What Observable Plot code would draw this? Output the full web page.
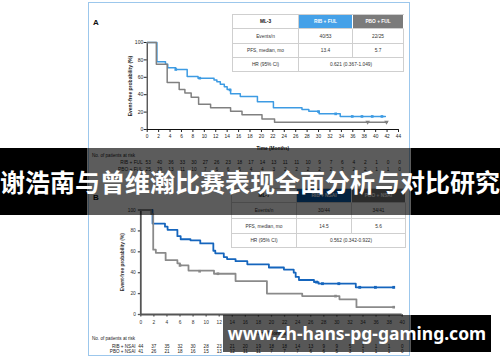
<!DOCTYPE html>
<html><head><meta charset="utf-8">
<script src="https://cdn.jsdelivr.net/npm/d3@7"></script>
<script src="https://cdn.jsdelivr.net/npm/@observablehq/plot@0.6"></script>
<style>
body{margin:0;background:#fff;}
#root{position:relative;width:500px;height:362px;overflow:hidden;background:#fff;font-family:"Liberation Sans",Arial,sans-serif;}
#root svg{position:absolute;overflow:visible;}
#root g[aria-label$="axis label"] text{font-weight:bold;}
.cell{position:absolute;box-sizing:border-box;border-right:1px solid #cfcfcf;border-bottom:1px solid #cfcfcf;display:flex;align-items:center;justify-content:center;font-size:4.8px;color:#333;white-space:nowrap;}
.txt{position:absolute;white-space:nowrap;}
</style></head>
<body><div id="root"></div>
<script>
// ---------- data ----------
const yTicks = [0, 20, 40, 60, 80, 100];
const monthsA = [0,2,4,6,8,10,12,14,16,18,20,22,24,26,28,30,32,34,36,38,40,42,44];
const monthsB = [0,2,4,6,8,10,12,14,16,18,20,22,24,26,28,30,32,34,36,38,40];

// Panel A (ML-3) Kaplan-Meier steps
const ribFulT = [0,1.7,3.2,3.6,5.0,7.0,8.9,11.7,12.2,12.8,13.5,14.0,14.6,16.3,19.3,22.1,27.1,28.3,30.1,33.8,41.7];
const ribFulS = [100,78,75,71,69,61,59,57,55,52,49,46,41,38,32,25,23,21,18,15,15];
const pboFulT = [0,1.6,3.5,5.6,6.6,7.7,9.0,11.1,14.6,16.6,20.1,22.3,42];
const pboFulS = [100,75,54,46,42,37,29,25,21,17,12,8.4,8.4];
const ribFulCensT = [5.0,9.2,14.5,30.0,33.0,35.9,37.6,39.4,41.1];
const ribFulCensS = [69,59,45.5,20.5,18,15,15,15,15];
const pboFulCensT = [38.6,41.9];
const pboFulCensS = [8.4,8.4];

// Panel B (ML-7) Kaplan-Meier steps
const ribNsaiT = [0,1.8,3.7,4.1,5.6,6.1,7.6,9.1,11.1,11.4,12.7,13.2,14.5,16.3,19.6,21.9,23.4,23.7,24.2,26.5,27.2,32.9,38.7];
const ribNsaiS = [100,87,84,81,75,72,71,68,61,58.5,55,53,51,48,45,43,40,36,33,31,29.5,26,26];
const pboNsaiT = [0,1.6,1.9,2.3,3.8,5.6,6.0,7.3,11.2,14.5,19.3,24.7,30.0,30.4,33.0,38.7];
const pboNsaiS = [100,96,62,59,52,49,47,42,39,32,20,17.6,17.6,14.5,7,7];
const ribNsaiCensT = [26.9,27.8,30.3,33.5,35.9,38.7];
const ribNsaiCensS = [31,29.5,29.5,26,26,26];
const pboNsaiCensT = [6.0,9.0,11.8,29.8,38.7];
const pboNsaiCensS = [47,41.4,39,17.6,7];

// numbers at risk
const riskRibFul = [53,40,36,33,30,27,26,23,18,17,14,13,11,11,10,9,7,6,4,2,1,0,0];
const riskPboFul = [25,19,13,11,10,7,6,6,5,4,4,3,2,2,2,2,2,2,2,2,1,1,0];
const riskRibNsai = [44,37,35,32,30,28,23,21,20,19,18,18,14,13,9,9,5,1,1,1,0];
const riskPboNsai = [41,26,21,18,16,15,13,12,11,11,7,7,7,6,6,5,3,1,1,1,0];

// summary tables
const tableAHeader = ["ML-3", "RIB + FUL", "PBO + FUL"];
const tableARows = [["Events/n","40/53","22/25"],["PFS, median, mo","13.4","5.7"],["HR (95% CI)","0.621 (0.367-1.049)"]];
const tableBHeader = ["ML-7", "RIB + NSAI", "PBO + NSAI"];
const tableBRows = [["Events/n","30/44","34/41"],["PFS, median, mo","14.5","5.6"],["HR (95% CI)","0.562 (0.342-0.922)"]];

const titleText = "谢浩南与曾维瀚比赛表现全面分析与对比研究";
const watermarkText = "www.zh-hans-pg-gaming.com";

// ---------- styles ----------
const blueA = "#3d9be3", grayA = "#808080", blueB = "#1565bd", grayB = "#8a8a8a";
const font = "Liberation Sans, Arial, sans-serif";

const root = document.getElementById("root");
const pairs = (t, s) => t.map((v, i) => ({t: v, s: s[i]}));
function put(el, left, top) { el.style.left = left + "px"; el.style.top = top + "px"; root.appendChild(el); return el; }
function txt(text, left, top, css) { const d = document.createElement("div"); d.className = "txt"; d.textContent = text; d.style.cssText += css || ""; return put(d, left, top); }

// panel border
const panel = document.createElement("div");
panel.style.cssText = "position:absolute;width:322px;height:354px;border:1px solid #9cc7ec;box-sizing:border-box;";
put(panel, 88, 2);

// ---------- Panel A chart ----------
const kmA = Plot.plot({
  width: 323, height: 150,
  marginLeft: 58.7, marginRight: 13, marginTop: 40, marginBottom: 23,
  style: {fontSize: "4.8px", fontFamily: font, background: "transparent", color: "#222", overflow: "visible"},
  x: {domain: [0, 44]},
  y: {domain: [0, 100]},
  marks: [
    Plot.axisY({ticks: yTicks, tickSize: 3, tickPadding: 1, label: "Event-free probability (%)", labelAnchor: "center", labelOffset: 19, labelArrow: "none", fontSize: 5}),
    Plot.axisX({ticks: monthsA, tickSize: 3, tickPadding: 2, label: "Time (Months)", labelAnchor: "center", labelOffset: 20, labelArrow: "none"}),
    Plot.ruleX([0], {stroke: "#111", strokeWidth: 1}),
    Plot.ruleY([0], {stroke: "#111", strokeWidth: 1}),
    Plot.line(pairs(ribFulT, ribFulS), {x: "t", y: "s", curve: "step-after", stroke: blueA, strokeWidth: 1.5}),
    Plot.dot(pairs(ribFulCensT, ribFulCensS), {x: "t", y: "s", symbol: "square", r: 1.5, fill: blueA}),
    Plot.line(pairs(pboFulT, pboFulS), {x: "t", y: "s", curve: "step-after", stroke: grayA, strokeWidth: 1.5}),
    Plot.dot(pairs(pboFulCensT, pboFulCensS), {x: "t", y: "s", symbol: "triangle", rotate: 180, r: 1.7, fill: grayA})
  ]
});
put(kmA, 88, 2);

// ---------- Panel A risk table ----------
const riskA = monthsA.flatMap((t, i) => [{t, arm: "RIB + FUL", n: riskRibFul[i]}, {t, arm: "PBO + FUL", n: riskPboFul[i]}]);
const rtA = Plot.plot({
  width: 323, height: 24,
  marginLeft: 58.7, marginRight: 13, marginTop: 10, marginBottom: 7,
  style: {fontSize: "4.8px", fontFamily: font, background: "transparent", color: "#222", overflow: "visible"},
  x: {domain: [0, 44], axis: null},
  y: {type: "point", domain: ["RIB + FUL", "PBO + FUL"], padding: 0},
  marks: [
    Plot.axisY({tickSize: 0, tickPadding: 4.5, label: null}),
    Plot.text(riskA, {x: "t", y: "arm", text: "n", dx: 1, fill: "#222"})
  ]
});
put(rtA, 88, 152);
txt("No. of patients at risk", 92, 152.5, "font-size:4.6px;color:#222;");

// ---------- Panel B chart ----------
const kmB = Plot.plot({
  width: 323, height: 150,
  marginLeft: 52.3, marginRight: 9.3, marginTop: 19.5, marginBottom: 26,
  style: {fontSize: "4.8px", fontFamily: font, background: "transparent", color: "#333", overflow: "visible"},
  x: {domain: [0, 40]},
  y: {domain: [0, 100]},
  marks: [
    Plot.axisY({ticks: yTicks, tickSize: 2.5, tickPadding: 2.5, label: "Event-free probability (%)", labelAnchor: "center", labelOffset: 20, labelArrow: "none", stroke: "#555", strokeWidth: 1.3}),
    Plot.axisX({ticks: monthsB, tickSize: 2.5, tickPadding: 3.5, label: "Time (Months)", labelAnchor: "center", labelOffset: 20, labelArrow: "none", stroke: "#555", strokeWidth: 1.3}),
    Plot.ruleX([0], {stroke: "#555", strokeWidth: 1.8}),
    Plot.ruleY([0], {stroke: "#555", strokeWidth: 1.8}),
    Plot.line(pairs(ribNsaiT, ribNsaiS), {x: "t", y: "s", curve: "step-after", stroke: blueB, strokeWidth: 1.8}),
    Plot.dot(pairs(ribNsaiCensT, ribNsaiCensS), {x: "t", y: "s", symbol: "square", r: 1.6, fill: blueB}),
    Plot.line(pairs(pboNsaiT, pboNsaiS), {x: "t", y: "s", curve: "step-after", stroke: grayB, strokeWidth: 1.8}),
    Plot.dot(pairs(pboNsaiCensT, pboNsaiCensS), {x: "t", y: "s", symbol: "square", r: 1.5, fill: grayB})
  ]
});
put(kmB, 88, 190);

// ---------- Panel B risk table ----------
const riskB = monthsB.flatMap((t, i) => [{t, arm: "RIB + NSAI", n: riskRibNsai[i]}, {t, arm: "PBO + NSAI", n: riskPboNsai[i]}]);
const rtB = Plot.plot({
  width: 323, height: 20,
  marginLeft: 52.3, marginRight: 9.3, marginTop: 10, marginBottom: 5,
  style: {fontSize: "4.6px", fontFamily: font, background: "transparent", color: "#222", overflow: "visible"},
  x: {domain: [0, 40], axis: null},
  y: {type: "point", domain: ["RIB + NSAI", "PBO + NSAI"], padding: 0},
  marks: [
    Plot.axisY({tickSize: 0, tickPadding: 5.3, label: null}),
    Plot.text(riskB, {x: "t", y: "arm", text: "n", fill: "#222"})
  ]
});
put(rtB, 88, 336);
txt("No. of patients at risk", 92, 335.5, "font-size:4.6px;color:#222;");

// ---------- summary tables ----------
function makeTable(left, top, cols, rows, header, body, headBg) {
  const box = document.createElement("div");
  const W = d3.sum(cols), H = d3.sum(rows);
  box.style.cssText = `position:absolute;width:${W}px;height:${H}px;border-top:1px solid #cfcfcf;border-left:1px solid #cfcfcf;box-sizing:border-box;background:#fff;`;
  put(box, left, top);
  const all = [header, ...body];
  let y = 0;
  all.forEach((row, r) => {
    let x = 0;
    row.forEach((text, c) => {
      const span = (row.length === 2 && c === 1) ? 2 : 1;
      const w = d3.sum(cols.slice(c, c + span));
      const d = document.createElement("div");
      d.className = "cell";
      d.textContent = text;
      d.style.left = (x - 1) + "px";
      d.style.top = (y - 1) + "px";
      d.style.width = w + "px";
      d.style.height = rows[r] + "px";
      if (c === 0) { d.style.left = "0px"; d.style.width = (w - 1) + "px"; }
      if (r === 0) { d.style.top = "0px"; d.style.height = (rows[r] - 1) + "px"; }
      if (r === 0) {
        d.style.background = headBg[c];
        d.style.color = c === 0 ? "#111" : "#fff";
        d.style.fontWeight = "bold";
        if (c > 0) d.style.borderRight = "1px solid #fff";
      }
      box.appendChild(d);
      x += w;
    });
    y += rows[r];
  });
}
makeTable(232, 14, [67, 54, 51], [15, 15, 14, 14], tableAHeader, tableARows, ["#fff", "#45a1e8", "#7b7b7b"]);
makeTable(231, 188, [66, 55, 54], [15, 16, 15, 14], tableBHeader, tableBRows, ["#fff", "#0d5fb0", "#7b7b7b"]);

txt("A", 93, 18, "font-size:8px;font-weight:bold;color:#111;");
txt("B", 93, 193, "font-size:8px;font-weight:bold;color:#111;");

// ---------- overlays ----------
function rect(l, t, w, h, bg) { const d = document.createElement("div"); d.style.cssText = `position:absolute;width:${w}px;height:${h}px;background:${bg};`; return put(d, l, t); }
rect(0, 148, 87, 67, "#000");
rect(87, 148, 324, 67, "rgba(0,0,0,0.64)");
rect(411, 148, 89, 67, "#000");
txt(titleText, 0, 148, "width:500px;height:67px;line-height:67px;text-align:center;font-family:'Noto Sans CJK SC',sans-serif;font-weight:bold;font-size:25px;color:#fff;");

rect(223, 315, 188, 37, "rgba(0,0,0,0.66)");
rect(411, 315, 80, 37, "#000");
txt(watermarkText, 223, 315, "width:268px;height:37px;line-height:37px;text-align:center;font-family:'Noto Sans',sans-serif;font-weight:bold;font-size:17.5px;color:#fff;");
</script>
</body></html>
